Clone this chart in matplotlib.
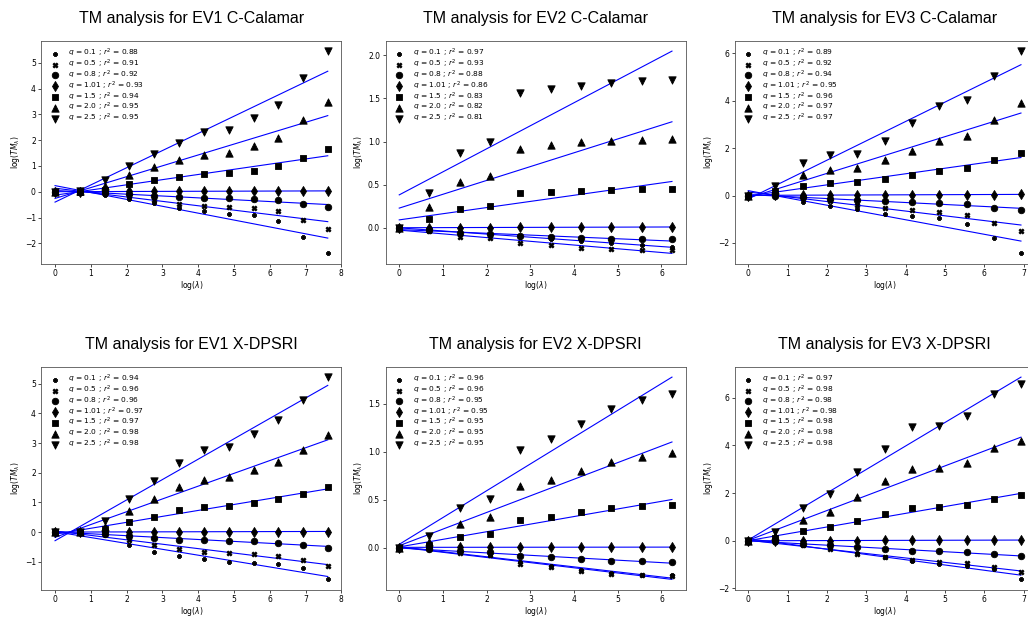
# coding: utf-8
import numpy as np
import matplotlib
matplotlib.use('Agg')

import matplotlib.pyplot as plt

# log(lambda), lambda = 1, 2, 4, ... (box sizes)
log_lam = [0.0, 0.69, 1.39, 2.08, 2.77, 3.47, 4.16, 4.85, 5.55, 6.24, 6.93, 7.62]

q_list = ['0.1', '0.5', '0.8', '1.01', '1.5', '2.0', '2.5']

# log(TM) per q, one list per panel
ev1_cal = [
    [0, -0.06, -0.13, -0.30, -0.45, -0.64, -0.76, -0.85, -0.90, -1.13, -1.76, -2.39],
    [0, -0.02, -0.06, -0.18, -0.33, -0.47, -0.55, -0.59, -0.62, -0.75, -1.11, -1.46],
    [0, -0.01, -0.04, -0.10, -0.15, -0.20, -0.24, -0.26, -0.27, -0.34, -0.47, -0.61],
    [0, 0.0, 0.01, 0.01, 0.01, 0.02, 0.02, 0.02, 0.02, 0.03, 0.03, 0.03],
    [0, 0.0, 0.06, 0.30, 0.46, 0.59, 0.69, 0.73, 0.81, 0.98, 1.31, 1.64],
    [0, 0.02, 0.24, 0.64, 0.97, 1.22, 1.44, 1.51, 1.76, 2.09, 2.78, 3.48],
    [0, 0.04, 0.45, 1.00, 1.48, 1.90, 2.30, 2.41, 2.84, 3.35, 4.41, 5.45],
]
ev1_cal_r2 = [0.88, 0.91, 0.92, 0.93, 0.94, 0.95, 0.95]

ev2_cal = [
    [0, -0.015, -0.05, -0.07, -0.11, -0.13, -0.15, -0.17, -0.20, -0.22],
    [0, -0.03, -0.10, -0.12, -0.17, -0.20, -0.23, -0.24, -0.25, -0.26],
    [0, -0.02, -0.06, -0.07, -0.09, -0.11, -0.12, -0.125, -0.13, -0.13],
    [0, 0.005, 0.005, 0.005, 0.008, 0.008, 0.008, 0.01, 0.01, 0.01],
    [0, 0.10, 0.22, 0.25, 0.40, 0.42, 0.43, 0.44, 0.45, 0.45],
    [0, 0.24, 0.53, 0.60, 0.92, 0.96, 0.99, 1.01, 1.02, 1.03],
    [0, 0.40, 0.87, 0.99, 1.56, 1.61, 1.64, 1.68, 1.70, 1.71],
]
ev2_cal_r2 = [0.97, 0.93, 0.88, 0.86, 0.83, 0.82, 0.81]

ev3_cal = [
    [0, -0.04, -0.27, -0.46, -0.58, -0.79, -0.88, -0.96, -1.21, -1.81, -2.44],
    [0, -0.01, -0.10, -0.24, -0.39, -0.52, -0.62, -0.69, -0.81, -1.15, -1.50],
    [0, -0.03, -0.08, -0.15, -0.18, -0.21, -0.27, -0.32, -0.37, -0.51, -0.63],
    [0, 0.01, 0.02, 0.02, 0.03, 0.03, 0.03, 0.03, 0.04, 0.04, 0.05],
    [0, 0.17, 0.42, 0.52, 0.55, 0.70, 0.88, 1.04, 1.15, 1.49, 1.80],
    [0, 0.22, 0.88, 1.08, 1.15, 1.50, 1.88, 2.32, 2.49, 3.19, 3.89],
    [0, 0.42, 1.39, 1.69, 1.77, 2.32, 3.05, 3.76, 4.01, 5.06, 6.09],
]
ev3_cal_r2 = [0.89, 0.92, 0.94, 0.95, 0.96, 0.97, 0.97]

ev1_dps = [
    [0, -0.02, -0.10, -0.44, -0.66, -0.80, -0.92, -0.99, -1.04, -1.08, -1.22, -1.59],
    [0, -0.01, -0.05, -0.25, -0.44, -0.58, -0.66, -0.71, -0.75, -0.80, -0.93, -1.14],
    [0, -0.01, -0.07, -0.12, -0.19, -0.25, -0.28, -0.29, -0.31, -0.36, -0.42, -0.52],
    [0, 0.0, 0.01, 0.01, 0.01, 0.015, 0.015, 0.02, 0.02, 0.02, 0.02, 0.02],
    [0, 0.02, 0.10, 0.33, 0.52, 0.73, 0.84, 0.89, 0.98, 1.10, 1.30, 1.52],
    [0, 0.02, 0.16, 0.72, 1.10, 1.52, 1.77, 1.85, 2.09, 2.35, 2.78, 3.26],
    [0, 0.02, 0.37, 1.12, 1.71, 2.34, 2.75, 2.87, 3.31, 3.77, 4.46, 5.22],
]
ev1_dps_r2 = [0.94, 0.96, 0.96, 0.97, 0.97, 0.98, 0.98]

ev2_dps = [
    [0, -0.015, -0.05, -0.075, -0.15, -0.19, -0.23, -0.26, -0.28, -0.29],
    [0, -0.017, -0.06, -0.08, -0.17, -0.20, -0.24, -0.27, -0.29, -0.30],
    [0, -0.015, -0.035, -0.05, -0.09, -0.10, -0.12, -0.135, -0.14, -0.145],
    [0, 0.005, 0.005, 0.005, 0.005, 0.005, 0.005, 0.005, 0.005, 0.005],
    [0, 0.03, 0.11, 0.14, 0.29, 0.32, 0.37, 0.41, 0.43, 0.45],
    [0, 0.06, 0.25, 0.32, 0.645, 0.71, 0.80, 0.89, 0.95, 0.99],
    [0, 0.12, 0.41, 0.51, 1.02, 1.13, 1.29, 1.45, 1.54, 1.60],
]
ev2_dps_r2 = [0.96, 0.96, 0.95, 0.95, 0.95, 0.95, 0.95]

ev3_dps = [
    [0, -0.07, -0.17, -0.32, -0.51, -0.69, -0.86, -0.97, -1.06, -1.18, -1.62],
    [0, -0.04, -0.19, -0.36, -0.54, -0.69, -0.82, -0.89, -0.94, -1.08, -1.29],
    [0, -0.03, -0.125, -0.19, -0.28, -0.35, -0.42, -0.44, -0.49, -0.56, -0.625],
    [0, 0.0, 0.01, 0.01, 0.01, 0.02, 0.02, 0.02, 0.02, 0.03, 0.03],
    [0, 0.11, 0.39, 0.57, 0.83, 1.11, 1.375, 1.40, 1.50, 1.76, 1.94],
    [0, 0.21, 0.875, 1.22, 1.85, 2.49, 3.01, 3.04, 3.28, 3.875, 4.19],
    [0, 0.36, 1.38, 1.97, 2.875, 3.86, 4.76, 4.81, 5.22, 6.14, 6.60],
]
ev3_dps_r2 = [0.97, 0.98, 0.98, 0.98, 0.98, 0.98, 0.98]

# marker per q
marker_list = ['P', 'X', 'o', 'd', 's', '^', 'v']
marker_size = [10, 13, 22, 26, 24, 28, 28]

FIG_W = 1028
FIG_H = 618


def plot_tm(ax, data, r2, title):
    """
    one panel: points of log(TM) vs log(lambda) + linear fit per q
    """
    n = len(data[0])
    x = np.array(log_lam[:n])
    for i, q in enumerate(q_list):
        y = np.array(data[i])
        label = '$q$ = ' + q + ' ; $r^2$ = ' + '%.2f' % r2[i]
        ax.scatter(x, y, marker=marker_list[i], s=marker_size[i], c='black',
                   linewidths=0.6, label=label, zorder=2)
        k, b = np.polyfit(x, y, 1)
        ax.plot(x, k * x + b, color='blue', linewidth=0.8, zorder=1)

    ax.set_title(title, fontsize=11.5, family='Liberation Sans', pad=13)
    ax.set_xlabel(r'log($\lambda$)', fontsize=5.5, labelpad=1)
    ax.set_ylabel(r'log($TM_{\lambda}$)', fontsize=5.5, labelpad=2)
    ax.tick_params(labelsize=5.5, length=2.5, width=0.5, pad=1.5)
    for sp in ax.spines.values():
        sp.set_linewidth(0.6)
        sp.set_color('#555555')
    ax.legend(loc='upper left', frameon=False, fontsize=5.4, scatterpoints=1,
              labelspacing=-0.2, borderaxespad=0.4)


fig = plt.figure(figsize=(FIG_W / 100, FIG_H / 100), dpi=100)

# axes boxes in pixels: left, top, width, height
col_left = [41.4, 385.6, 734.6]
row_top = [41, 367]
ax_w = 300
ax_h = 222.5

panels = [
    (ev1_cal, ev1_cal_r2, 'TM analysis for EV1 C-Calamar'),
    (ev2_cal, ev2_cal_r2, 'TM analysis for EV2 C-Calamar'),
    (ev3_cal, ev3_cal_r2, 'TM analysis for EV3 C-Calamar'),
    (ev1_dps, ev1_dps_r2, 'TM analysis for EV1 X-DPSRI'),
    (ev2_dps, ev2_dps_r2, 'TM analysis for EV2 X-DPSRI'),
    (ev3_dps, ev3_dps_r2, 'TM analysis for EV3 X-DPSRI'),
]

for i, (data, r2, title) in enumerate(panels):
    r = i // 3
    c = i % 3
    ax = fig.add_axes([col_left[c] / FIG_W, 1 - (row_top[r] + ax_h) / FIG_H,
                       ax_w / FIG_W, ax_h / FIG_H])
    plot_tm(ax, data, r2, title)

fig.savefig('out.png', dpi=100)
